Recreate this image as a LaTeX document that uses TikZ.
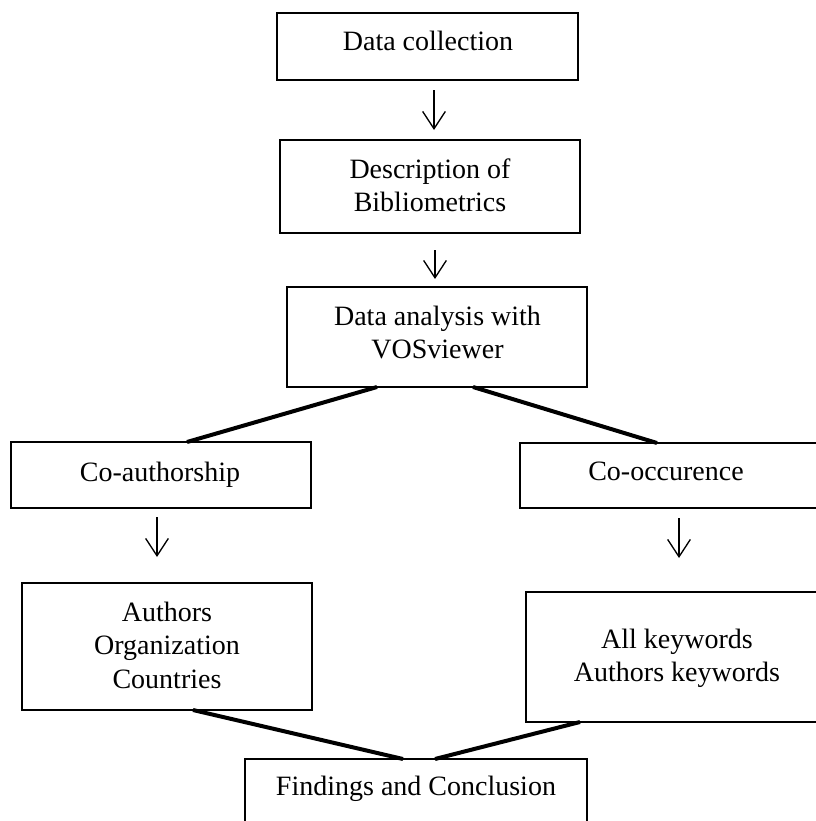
\documentclass[tikz,border=0pt]{standalone}
\usepackage{fontspec}
\setmainfont{Liberation Serif}
\usetikzlibrary{arrows.meta,calc}
\tikzset{
  boxnode/.style={draw, line width=1.6pt, inner sep=0pt, outer sep=0pt,
    minimum width=#1*0.75pt},
  bh/.style={minimum height=#1*0.75pt},
  txt/.style={inner sep=0pt, align=center, text depth=0pt,
    font=\fontsize{21}{25}\selectfont},
  flow/.style={line width=1pt, -{Straight Barb[length=13pt,width=17pt,line width=1pt]}},
  link/.style={line width=3pt}
}
\begin{document}
\begin{tikzpicture}[x=0.75pt,y=-0.75pt]
\path[use as bounding box] (0,0) rectangle (816,821);
\clip (0,0) rectangle (816,821);
\fill[white] (0,0) rectangle (816,821);
% boxes
\node[boxnode=301, bh=67]  (b1) at (427.5,46.5) {};
\node[boxnode=300, bh=93]  (b2) at (430,186.5) {};
\node[boxnode=300, bh=100] (b3) at (437,337) {};
\node[boxnode=300, bh=66]  (b4) at (161,475) {};
\node[boxnode=310, bh=65]  (b5) at (675,475.5) {};
\node[boxnode=290, bh=127] (b6) at (167,646.5) {};
\node[boxnode=304, bh=130] (b7) at (678,657) {};
\node[boxnode=342, bh=91]  (b8) at (416,804.5) {};
% texts
\node[txt] (t1) at (428,41) {Data collection};
\node[txt] (t2) at (430,185) {Description of\\Bibliometrics};
\node[txt] (t3) at (437.5,332.5) {Data analysis with\\VOSviewer};
\node[txt] (t4) at (160,472) {Co-authorship};
\node[txt] (t5) at (666,471.5) {Co-occurence};
\node[txt] (t6) at (167,645) {Authors\\Organization\\Countries};
\node[txt] (t7) at (677,655.5) {All keywords\\Authors keywords};
\node[txt] (t8) at (416,786) {Findings and Conclusion};
% arrows
\draw[flow] ($(b1.south)+(6.5,10)$) -- ($(b2.north)+(4,-10)$);
\draw[flow] ($(b2.south)+(5,17)$) -- ($(b3.north)+(-2,-8)$);
\draw[flow] ($(b4.south)+(-4,9)$) -- ($(b6.north)+(-10,-26)$);
\draw[flow] ($(b5.south)+(4,10)$) -- ($(b7.north)+(1,-34)$);
% thick links
\draw[link] ($(b3.south west)+(90,0)$) -- ($(b4.north west)+(176,0)$);
\draw[link] ($(b3.south west)+(186,0)$) -- ($(b5.north west)+(137,0)$);
\draw[link] ($(b6.south west)+(171,0)$) -- ($(b8.north west)+(158,0)$);
\draw[link] ($(b7.south west)+(54,0)$) -- ($(b8.north west)+(190,0)$);
\end{tikzpicture}
\end{document}
